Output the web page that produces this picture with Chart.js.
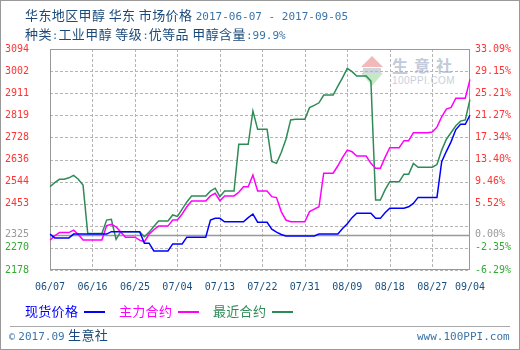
<!DOCTYPE html>
<html>
<head>
<meta charset="utf-8">
<script src="https://cdn.jsdelivr.net/npm/chart.js@4/dist/chart.umd.min.js"></script>
<style>
  html, body { margin: 0; padding: 0; background: #fff; }
  body { width: 520px; height: 350px; position: relative; overflow: hidden; }
  #frame { position: absolute; left: 0; top: 0; width: 520px; height: 350px; box-sizing: border-box; border: 1px solid #999; }
  #chart { position: absolute; left: 0; top: 0; }
  .txt { position: absolute; white-space: pre; font-family: "Noto Sans CJK SC", sans-serif; font-size: 13px; line-height: 16px; color: #1a4a7a; letter-spacing: 0.4px; }
  .num { font-family: "DejaVu Sans Mono", monospace; font-size: 11px; color: #3a74a8; letter-spacing: 0; }
  #legend { position: absolute; left: 25px; top: 303px; height: 16px; }
  #legend .item { position: absolute; top: 0; white-space: pre; font-family: "Noto Sans CJK SC", sans-serif; font-size: 13px; line-height: 16px; letter-spacing: 0.3px; }
  #legend .swatch { position: absolute; top: 8px; height: 1.5px; width: 21px; }
  #sep { position: absolute; left: 10px; top: 326px; width: 500px; height: 1px; background: #aaa; }
  #mark { position: absolute; left: 360px; top: 54px; }
</style>
</head>
<body>
<div id="frame"></div>
<svg id="mark" width="100" height="34" viewBox="0 0 100 34">
  <polygon points="12,2 1,13 23,13" fill="#f3b8b8"/>
  <rect x="3" y="14" width="18" height="5" fill="#d0d4dc"/>
  <polygon points="1,19 23,19 12,32" fill="#c6e8c6"/>
  <text x="32" y="18" font-family="Noto Sans CJK SC" font-size="16" font-weight="bold" fill="#c2cadb" letter-spacing="6">生意社</text>
  <text x="32" y="30" font-family="Liberation Sans" font-size="10" fill="#c9cfdb" letter-spacing="0.4">100PPI.COM</text>
</svg>
<canvas id="chart" width="520" height="350"></canvas>
<div class="txt" style="left:25px; top:7px;">华东地区甲醇 华东 市场价格 <span class="num">2017-06-07 - 2017-09-05</span></div>
<div class="txt" style="left:25px; top:26px;">种类<span class="num">:</span>工业甲醇 等级<span class="num">:</span>优等品 甲醇含量<span class="num">:99.9%</span></div>
<div id="legend"></div>
<div id="sep"></div>
<div class="txt" style="left:9px; top:327px;"><span class="num" style="font-size:10px">©</span> <span class="num">2017.09</span> 生意社</div>
<div class="txt" style="left:417px; top:327px;"><span class="num">www.100PPI.com</span></div>

<script>
// Dates (06/07 - 09/04)
const labels = [
    '06/07','06/08','06/09','06/10','06/11','06/12','06/13','06/14','06/15','06/16','06/17','06/18',
    '06/19','06/20','06/21','06/22','06/23','06/24','06/25','06/26','06/27','06/28','06/29','06/30',
    '07/01','07/02','07/03','07/04','07/05','07/06','07/07','07/08','07/09','07/10','07/11','07/12',
    '07/13','07/14','07/15','07/16','07/17','07/18','07/19','07/20','07/21','07/22','07/23','07/24',
    '07/25','07/26','07/27','07/28','07/29','07/30','07/31',
    '08/01','08/02','08/03','08/04','08/05','08/06','08/07','08/08','08/09','08/10','08/11','08/12',
    '08/13','08/14','08/15','08/16','08/17','08/18','08/19','08/20','08/21','08/22','08/23','08/24',
    '08/25','08/26','08/27','08/28','08/29','08/30','08/31',
    '09/01','09/02','09/03','09/04'
];

// 现货价格
const spotPrice = [
    2327, 2311, 2311, 2311, 2311, 2327, 2327, 2327, 2327, 2327,
    2327, 2327, 2327, 2337, 2337, 2337, 2337, 2337, 2337, 2337,
    2289, 2289, 2257, 2257, 2257, 2257, 2286, 2286, 2286, 2314,
    2314, 2314, 2314, 2314, 2385, 2392, 2392, 2378, 2378, 2378,
    2378, 2378, 2395, 2410, 2376, 2376, 2376, 2347, 2335, 2325,
    2319, 2319, 2319, 2319, 2319, 2319, 2319, 2327, 2327, 2327,
    2327, 2327, 2350, 2370, 2395, 2413, 2413, 2413, 2413, 2392,
    2392, 2415, 2434, 2434, 2434, 2434, 2440, 2454, 2479, 2479,
    2479, 2479, 2479, 2627, 2670, 2710, 2760, 2782, 2782, 2820
];

// 主力合约
const mainContract = [
    2302, 2320, 2333, 2333, 2333, 2343, 2325, 2302, 2302, 2302,
    2302, 2302, 2362, 2367, 2357, 2335, 2314, 2314, 2314, 2302,
    2295, 2326, 2345, 2360, 2360, 2360, 2385, 2385, 2410, 2440,
    2464, 2464, 2464, 2464, 2485, 2496, 2465, 2485, 2485, 2485,
    2500, 2523, 2523, 2572, 2505, 2505, 2505, 2482, 2478, 2420,
    2385, 2378, 2378, 2378, 2378, 2420, 2430, 2440, 2579, 2579,
    2579, 2610, 2645, 2675, 2668, 2650, 2650, 2650, 2620, 2600,
    2600, 2645, 2685, 2685, 2685, 2714, 2714, 2747, 2747, 2747,
    2747, 2750, 2770, 2813, 2845, 2852, 2890, 2890, 2890, 2968
];

// 最近合约
const nearContract = [
    2523, 2540, 2554, 2554, 2560, 2570, 2554, 2530, 2329, 2329,
    2329, 2329, 2385, 2388, 2305, 2337, 2337, 2337, 2337, 2337,
    2316, 2335, 2358, 2381, 2381, 2381, 2406, 2400, 2430, 2460,
    2485, 2485, 2485, 2485, 2505, 2517, 2482, 2505, 2505, 2505,
    2699, 2699, 2699, 2837, 2761, 2761, 2761, 2628, 2620, 2665,
    2720, 2800, 2803, 2803, 2803, 2851, 2860, 2871, 2903, 2903,
    2903, 2940, 2975, 3014, 3000, 2982, 2982, 2982, 2961, 2468,
    2468, 2510, 2544, 2544, 2544, 2575, 2575, 2620, 2604, 2604,
    2604, 2604, 2615, 2675, 2720, 2748, 2776, 2795, 2800, 2885
];

const seriesNames = ['现货价格', '主力合约', '最近合约'];
const seriesColors = ['#0000ff', '#ff00ff', '#2e8b57'];

// Y axis ticks (left: price, right: change vs base)
const baseValue = 2325;
const yTickValues = [2178, 2269.6, 2325, 2361.2, 2452.8, 2544.4, 2636, 2727.6, 2819.2, 2910.8, 3002.4, 3094];
const leftTickLabels = ['2178', '2270', '2325', '', '2453', '2544', '2636', '2728', '2819', '2911', '3002', '3094'];
const rightTickLabels = ['-6.29%', '-2.35%', '0.00%', '', '5.52%', '9.46%', '13.40%', '17.34%', '21.27%', '25.21%', '29.15%', '33.09%'];
const xTickStep = 9;

function tickColor(i) {
    const v = yTickValues[i];
    if (v === baseValue) return '#999999';
    return v > baseValue ? '#ff3333' : '#33aa33';
}

const monoFont = { family: 'DejaVu Sans Mono', size: 10 };

// dashed grid, plot box and base line under the series
const framePlugin = {
    id: 'frame',
    beforeDatasetsDraw(chart) {
        const { ctx, chartArea: a, scales } = chart;
        ctx.save();
        ctx.lineWidth = 1;
        ctx.strokeStyle = '#b4b4b4';
        ctx.setLineDash([3, 2]);
        ctx.beginPath();
        for (let k = 0; k < yTickValues.length; k++) {
            if (yTickValues[k] === baseValue) continue;
            const py = Math.round(scales.y.getPixelForValue(yTickValues[k])) + 0.5;
            ctx.moveTo(a.left, py);
            ctx.lineTo(a.right, py);
        }
        for (let i = xTickStep; i < labels.length - 1; i += xTickStep) {
            const px = Math.round(scales.x.getPixelForValue(i)) + 0.5;
            ctx.moveTo(px, a.top);
            ctx.lineTo(px, a.bottom);
        }
        ctx.stroke();
        ctx.setLineDash([]);

        ctx.strokeStyle = '#999';
        ctx.strokeRect(a.left + 0.5, a.top + 0.5, a.right - a.left - 1, a.bottom - a.top - 1);

        const yb = Math.round(scales.y.getPixelForValue(baseValue)) + 0.5;
        ctx.lineWidth = 1.5;
        ctx.beginPath();
        ctx.moveTo(a.left, yb);
        ctx.lineTo(a.right, yb);
        ctx.stroke();
        ctx.restore();
    }
};

const sharedY = {
    min: 2178,
    max: 3094,
    afterBuildTicks: s => { s.ticks = yTickValues.map(v => ({ value: v })); }
};

new Chart(document.getElementById('chart').getContext('2d'), {
    type: 'line',
    data: {
        labels: labels,
        datasets: [spotPrice, mainContract, nearContract].map((d, i) => ({
            label: seriesNames[i],
            data: d,
            borderColor: seriesColors[i],
            borderWidth: 1.5,
            pointRadius: 0,
            fill: false,
            tension: 0
        }))
    },
    options: {
        responsive: false,
        animation: false,
        events: [],
        layout: { padding: { left: 5, right: 0, top: 49, bottom: 50 } },
        plugins: { legend: { display: false }, tooltip: { enabled: false } },
        scales: {
            x: {
                offset: false,
                grid: { display: false, drawTicks: false },
                border: { display: false },
                ticks: {
                    autoSkip: false,
                    maxRotation: 0,
                    padding: 11,
                    color: '#1a5080',
                    font: monoFont,
                    callback: (v, i) => (i % xTickStep === 0 || i === labels.length - 1) ? labels[i] : ''
                },
                afterFit: s => { s.height = 30; }
            },
            y: {
                ...sharedY,
                position: 'left',
                grid: { display: false, drawTicks: false },
                border: { display: false },
                ticks: {
                    crossAlign: 'far',
                    padding: 5,
                    font: monoFont,
                    color: ctx => tickColor(ctx.index),
                    callback: (v, i) => leftTickLabels[i]
                },
                afterFit: s => { s.width = 45; }
            },
            y2: {
                ...sharedY,
                position: 'right',
                grid: { display: false, drawTicks: false },
                border: { display: false },
                ticks: {
                    crossAlign: 'near',
                    padding: 5,
                    font: monoFont,
                    color: ctx => tickColor(ctx.index),
                    callback: (v, i) => rightTickLabels[i]
                },
                afterFit: s => { s.width = 50; }
            }
        }
    },
    plugins: [framePlugin]
});

// Legend: name then a short line
const legend = document.getElementById('legend');
const legendOffsets = [0, 94, 188];
seriesNames.forEach((name, i) => {
    const item = document.createElement('div');
    item.className = 'item';
    item.style.left = legendOffsets[i] + 'px';
    item.style.color = seriesColors[i];
    item.textContent = name;
    legend.appendChild(item);
    const sw = document.createElement('div');
    sw.className = 'swatch';
    sw.style.left = (legendOffsets[i] + 59) + 'px';
    sw.style.background = seriesColors[i];
    legend.appendChild(sw);
});
</script>
</body>
</html>
